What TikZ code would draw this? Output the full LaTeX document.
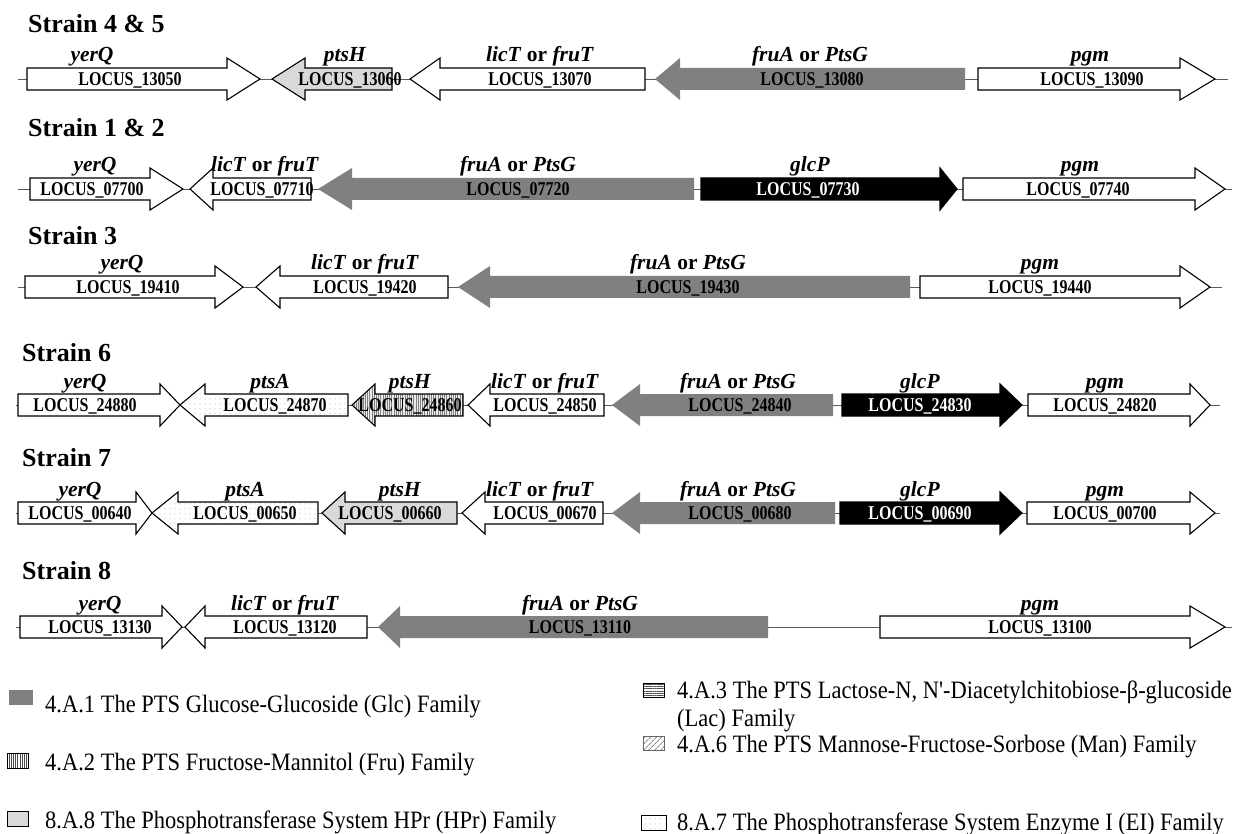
\documentclass[tikz,border=0pt]{standalone}
\usepackage{fontspec}
\setmainfont{Liberation Serif}
\newfontfamily\narrowfont{Liberation Serif}[FakeStretch=0.82]
\newfontfamily\legfont{Liberation Serif}[FakeStretch=0.9]
\usetikzlibrary{patterns.meta}
\tikzset{
 gbody/.style={draw=black, line width=1.1pt, fill=white, line join=miter},
 wht/.style={gbody},
 hpr/.style={gbody, fill=black!15},
 glc/.style={fill=black!50, draw=none},
 blk/.style={fill=black, draw=black, line width=1.1pt},
 fru/.style={gbody, preaction={fill=black!8}, pattern={Lines[angle=90,distance=2.2pt,line width=0.45pt]}, pattern color=black!50},
 ei/.style={gbody, preaction={fill=white}, pattern={Dots[radius=0.5pt,distance=5pt]}, pattern color=black!45},
 chrom/.style={draw=black!65, line width=0.8pt},
 locus/.style={font=\narrowfont\bfseries\fontsize{19.5}{19.5}\selectfont, inner sep=0pt, anchor=base},
 gname/.style={font=\bfseries\fontsize{21.5}{21.5}\selectfont, inner sep=0pt, anchor=base},
 title/.style={font=\bfseries\fontsize{26}{26}\selectfont, inner sep=0pt, anchor=base west},
 leg/.style={font=\legfont\fontsize{25}{27}\selectfont, inner sep=0pt, anchor=base west},
 legbox/.style={line width=0.9pt},
}
\newcommand\gn[5]{% tail, base, tip, y, style
 \draw[#5] (#1,#4-11) -- (#2,#4-11) -- (#2,#4-21) -- (#3,#4) -- (#2,#4+21) -- (#2,#4+11) -- (#1,#4+11) -- cycle;
}
\newcommand\lt[4]{\node[locus] (#1) at (#2,#3+6.4) {LOCUS\_#4};}
\newcommand\lw[4]{\node[locus, text=white] (#1) at (#2,#3+6.4) {LOCUS\_#4};}
\newcommand\gt[4]{\node[gname] (#1) at (#2,#3-17) {#4};}
\newcommand\lic{\textit{licT} or \textit{fruT}}
\newcommand\fru{\textit{fruA} or \textit{PtsG}}
\begin{document}
\begin{tikzpicture}[x=1pt,y=-1pt]
\useasboundingbox (0,0) rectangle (1245,834);

% ---------- Strain 4 & 5 ----------
\node[title] (t1) at (28,33) {Strain 4 \& 5};
\coordinate (a1) at (18,79); \coordinate (b1) at (1228,79);
\draw[chrom] (a1) -- (b1);
\gn{27}{227}{260}{79}{wht}
\gn{392}{305}{272}{79}{hpr}
\gn{645}{440}{410}{79}{wht}
\gn{965}{680}{655}{79}{glc}
\gn{978}{1180}{1215}{79}{wht}
\lt{l11}{130}{79}{13050} \gt{g11}{92}{79}{\textit{yerQ}}
\lt{l12}{350}{79}{13060} \gt{g12}{345}{79}{\textit{ptsH}}
\lt{l13}{540}{79}{13070} \gt{g13}{540}{79}{\lic}
\lt{l14}{812}{79}{13080} \gt{g14}{810}{79}{\fru}
\lt{l15}{1092}{79}{13090} \gt{g15}{1090}{79}{\textit{pgm}}

% ---------- Strain 1 & 2 ----------
\node[title] (t2) at (28,137) {Strain 1 \& 2};
\coordinate (a2) at (18,189); \coordinate (b2) at (1232,189);
\draw[chrom] (a2) -- (b2);
\gn{30}{150}{183}{189}{wht}
\gn{311}{213}{190}{189}{wht}
\gn{694}{352}{318}{189}{glc}
\gn{701}{940}{957}{189}{blk}
\gn{963}{1195}{1225}{189}{wht}
\lt{l21}{92}{189}{07700} \gt{g21}{95}{189}{\textit{yerQ}}
\lt{l22}{262}{189}{07710} \gt{g22}{265}{189}{\lic}
\lt{l23}{518}{189}{07720} \gt{g23}{518}{189}{\fru}
\lw{l24}{808}{189}{07730} \gt{g24}{810}{189}{\textit{glcP}}
\lt{l25}{1078}{189}{07740} \gt{g25}{1080}{189}{\textit{pgm}}

% ---------- Strain 3 ----------
\node[title] (t3) at (28,245) {Strain 3};
\coordinate (a3) at (18,287); \coordinate (b3) at (1222,287);
\draw[chrom] (a3) -- (b3);
\gn{25}{215}{243}{287}{wht}
\gn{448}{280}{256}{287}{wht}
\gn{910}{490}{458}{287}{glc}
\gn{920}{1180}{1210}{287}{wht}
\lt{l31}{128}{287}{19410} \gt{g31}{122}{287}{\textit{yerQ}}
\lt{l32}{365}{287}{19420} \gt{g32}{365}{287}{\lic}
\lt{l33}{688}{287}{19430} \gt{g33}{688}{287}{\fru}
\lt{l34}{1040}{287}{19440} \gt{g34}{1040}{287}{\textit{pgm}}

% ---------- Strain 6 ----------
\node[title] (t4) at (22,361) {Strain 6};
\coordinate (a4) at (16,405); \coordinate (b4) at (1220,405);
\draw[chrom] (a4) -- (b4);
\gn{18}{160}{180}{405}{wht}
\gn{348}{205}{180}{405}{ei}
\gn{463}{375}{352}{405}{fru}
\gn{604}{490}{468}{405}{wht}
\gn{833}{640}{612}{405}{glc}
\gn{842}{1000}{1022}{405}{blk}
\gn{1028}{1190}{1210}{405}{wht}
\lt{l41}{85}{405}{24880} \gt{g41}{85}{405}{\textit{yerQ}}
\lt{l42}{275}{405}{24870} \gt{g42}{270}{405}{\textit{ptsA}}
\lt{l43}{410}{405}{24860} \gt{g43}{410}{405}{\textit{ptsH}}
\lt{l44}{545}{405}{24850} \gt{g44}{545}{405}{\lic}
\lt{l45}{740}{405}{24840} \gt{g45}{738}{405}{\fru}
\lw{l46}{920}{405}{24830} \gt{g46}{920}{405}{\textit{glcP}}
\lt{l47}{1105}{405}{24820} \gt{g47}{1105}{405}{\textit{pgm}}

% ---------- Strain 7 ----------
\node[title] (t5) at (22,466) {Strain 7};
\coordinate (a5) at (16,513); \coordinate (b5) at (1220,513);
\draw[chrom] (a5) -- (b5);
\gn{18}{136}{152}{513}{wht}
\gn{318}{178}{152}{513}{ei}
\gn{457}{345}{322}{513}{hpr}
\gn{603}{485}{462}{513}{wht}
\gn{835}{640}{612}{513}{glc}
\gn{840}{1000}{1022}{513}{blk}
\gn{1027}{1190}{1215}{513}{wht}
\lt{l51}{80}{513}{00640} \gt{g51}{80}{513}{\textit{yerQ}}
\lt{l52}{245}{513}{00650} \gt{g52}{245}{513}{\textit{ptsA}}
\lt{l53}{390}{513}{00660} \gt{g53}{400}{513}{\textit{ptsH}}
\lt{l54}{545}{513}{00670} \gt{g54}{540}{513}{\lic}
\lt{l55}{740}{513}{00680} \gt{g55}{738}{513}{\fru}
\lw{l56}{920}{513}{00690} \gt{g56}{920}{513}{\textit{glcP}}
\lt{l57}{1105}{513}{00700} \gt{g57}{1105}{513}{\textit{pgm}}

% ---------- Strain 8 ----------
\node[title] (t6) at (22,579) {Strain 8};
\coordinate (a6) at (16,627); \coordinate (b6) at (1232,627);
\draw[chrom] (a6) -- (b6);
\gn{20}{162}{182}{627}{wht}
\gn{367}{205}{185}{627}{wht}
\gn{768}{400}{378}{627}{glc}
\gn{880}{1190}{1225}{627}{wht}
\lt{l61}{100}{627}{13130} \gt{g61}{100}{627}{\textit{yerQ}}
\lt{l62}{285}{627}{13120} \gt{g62}{285}{627}{\lic}
\lt{l63}{580}{627}{13110} \gt{g63}{580}{627}{\fru}
\lt{l64}{1040}{627}{13100} \gt{g64}{1040}{627}{\textit{pgm}}

% ---------- Legend ----------
\fill[black!50] (9,690) rectangle (33,705);
\node[leg] (k1) at (45,712) {4.A.1 The PTS Glucose-Glucoside (Glc) Family};
\draw[legbox, preaction={fill=white}, pattern={Lines[angle=90,distance=2.2pt,line width=0.6pt]}, pattern color=black!70] (7,753) rectangle (28,768);
\node[leg] (k2) at (45,770) {4.A.2 The PTS Fructose-Mannitol (Fru) Family};
\draw[legbox, fill=black!15] (7,811) rectangle (28,826);
\node[leg] (k3) at (45,828) {8.A.8 The Phosphotransferase System HPr (HPr) Family};

\draw[legbox, preaction={fill=white}, pattern={Lines[angle=0,distance=2.2pt,line width=0.6pt]}, pattern color=black!70] (643,683) rectangle (664,697);
\node[leg] (k4) at (677,698) {4.A.3 The PTS Lactose-N, N'-Diacetylchitobiose-β-glucoside};
\node[leg] (k4b) at (677,726) {(Lac) Family};
\draw[legbox, draw=black!60, preaction={fill=white}, pattern={Lines[angle=45,distance=4pt,line width=1pt]}, pattern color=black!45] (643,736) rectangle (664,750);
\node[leg] (k5) at (677,752) {4.A.6 The PTS Mannose-Fructose-Sorbose (Man) Family};
\draw[legbox, preaction={fill=white}, pattern={Dots[radius=0.5pt,distance=5pt]}, pattern color=black!45] (641,815) rectangle (666,830);
\node[leg] (k6) at (677,830) {8.A.7 The Phosphotransferase System Enzyme I (EI) Family};
\end{tikzpicture}
\end{document}
